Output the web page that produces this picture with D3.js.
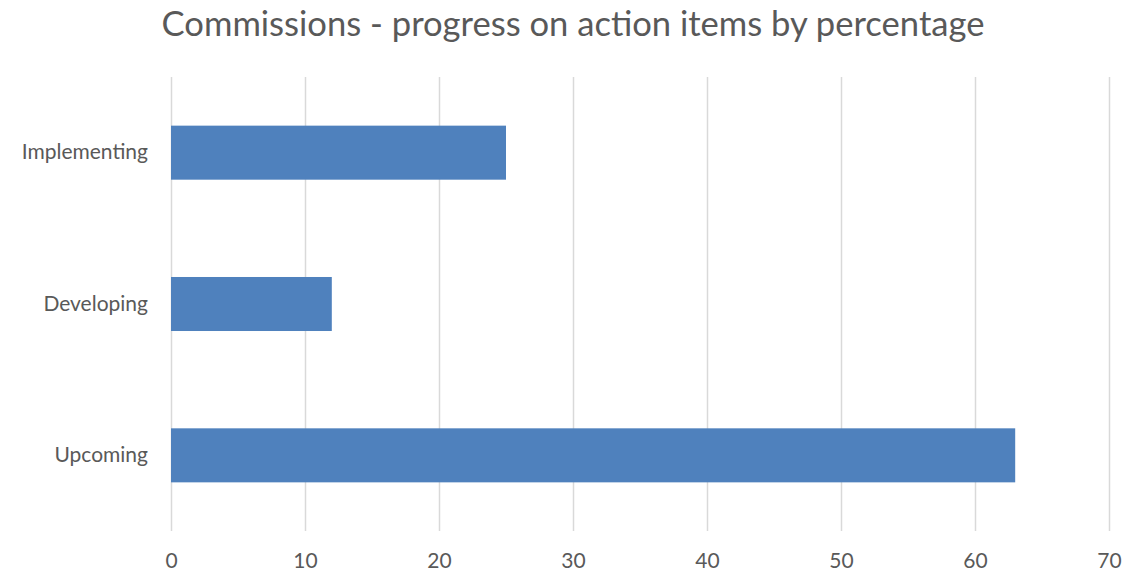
<!DOCTYPE html>
<html><head><meta charset="utf-8">
<script src="https://cdn.jsdelivr.net/npm/d3@7"></script>
<style>body{margin:0;background:#fff;}svg{display:block;font-family:Lato,"Open Sans",sans-serif;}</style>
</head><body>
<svg id="c" width="1125" height="573"></svg>
<script>
const categories = ["Implementing", "Developing", "Upcoming"];
const values = [25, 12, 63];
const xTicks = [0, 10, 20, 30, 40, 50, 60, 70];
const title = "Commissions - progress on action items by percentage";

const svg = d3.select("#c");
const mLeft = 171, mRight = 1109, mTop = 77, mBottom = 531;
const x = d3.scaleLinear().domain([0, 70]).range([mLeft, mRight]);
const y = d3.scaleBand().domain(categories).range([mTop, mBottom]).paddingInner(0.643).paddingOuter(0.3215);

svg.append("text").attr("x", 573).attr("y", 36).attr("text-anchor", "middle")
  .attr("font-size", 34.6).attr("fill", "#595959").text(title);

const xAxis = d3.axisBottom(x).tickValues(xTicks).tickSize(-(mBottom - mTop)).tickPadding(22);
const gx = svg.append("g").attr("transform", `translate(0,${mBottom})`).call(xAxis);
gx.select(".domain").remove();
gx.selectAll(".tick line").attr("stroke", "#d9d9d9").attr("stroke-width", 1.5);
gx.selectAll(".tick text").attr("fill", "#595959").attr("font-size", 21).attr("font-family", "Lato");

svg.selectAll("rect.bar").data(categories).join("rect").attr("class", "bar")
  .attr("x", x(0)).attr("y", d => y(d))
  .attr("width", (d, i) => x(values[i]) - x(0)).attr("height", y.bandwidth())
  .attr("fill", "#4f81bd");

const yAxis = d3.axisLeft(y).tickSize(0).tickPadding(23);
const gy = svg.append("g").attr("transform", `translate(${mLeft},0)`).call(yAxis);
gy.select(".domain").remove();
gy.selectAll(".tick text").attr("fill", "#595959").attr("font-size", 21).attr("font-family", "Lato");
</script>
</body></html>
